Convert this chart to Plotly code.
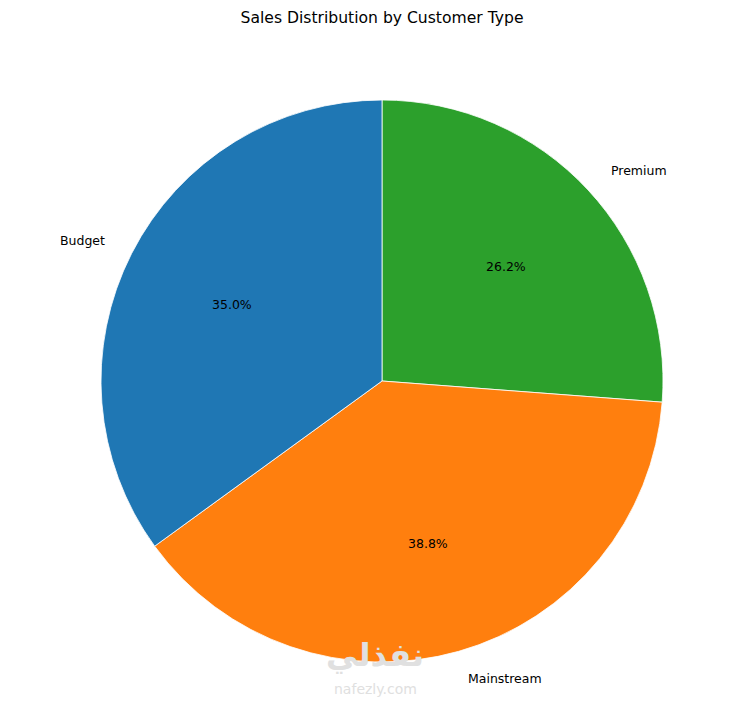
import math
import plotly.graph_objects as go

labels = ["Budget", "Mainstream", "Premium"]
values = [35.0, 38.8, 26.2]
colors = ["#1f77b4", "#ff7f0e", "#2ca02c"]
title = "Sales Distribution by Customer Type"

OFF = 8  # page body margin
W, H = 751 - OFF, 708 - OFF
cx, cy, R = 382 - OFF, 381 - OFF, 281  # pixel centre/radius of the pie (figure coords)

# matplotlib draws counter-clockwise from 12 o'clock; equivalently draw the
# reversed order clockwise from 12 o'clock
fig = go.Figure(go.Pie(
    labels=labels[::-1], values=values[::-1], sort=False, direction="clockwise",
    rotation=0, textinfo="none", hoverinfo="label+percent",
    marker=dict(colors=colors[::-1], line=dict(color="white", width=0.8)),
    domain=dict(x=[(cx - R) / W, (cx + R) / W],
                y=[(H - cy - R) / H, (H - cy + R) / H]),
    showlegend=False,
))

total = sum(values)
start = 90.0
font = dict(family="DejaVu Sans", size=12.5, color="black")
for lab, v in zip(labels, values):
    sweep = 360.0 * v / total
    mid = math.radians(start + sweep / 2)
    start += sweep
    lx = cx + 1.1 * R * math.cos(mid)
    ly = cy - 1.1 * R * math.sin(mid)
    fig.add_annotation(x=lx / W, y=1 - ly / H, xref="paper", yref="paper",
                       text=lab, showarrow=False, font=font,
                       xanchor="left" if math.cos(mid) > 0 else "right",
                       yanchor="middle")
    px = cx + 0.6 * R * math.cos(mid)
    py = cy - 0.6 * R * math.sin(mid)
    fig.add_annotation(x=px / W, y=1 - py / H, xref="paper", yref="paper",
                       text=f"{100 * v / total:.1f}%", showarrow=False, font=font,
                       xanchor="center", yanchor="middle")

# watermark
fig.add_annotation(x=(375 - OFF) / W, y=1 - (676 - OFF) / H, xref="paper", yref="paper",
                   text="<b>نفذلي</b>", showarrow=False,
                   font=dict(family="DejaVu Sans", size=32, color="#e0e0e0"))
fig.add_annotation(x=(375 - OFF) / W, y=1 - (699 - OFF) / H, xref="paper", yref="paper",
                   text="nafezly.com", showarrow=False,
                   font=dict(family="DejaVu Sans", size=14, color="#e0e0e0"))

fig.update_layout(
    width=W, height=H,
    margin=dict(l=0, r=0, t=0, b=0),
    paper_bgcolor="white", plot_bgcolor="white",
    title=dict(text=title, x=(382 - OFF) / W, xanchor="center",
               y=1 - (18 - OFF) / H, yanchor="middle",
               font=dict(family="DejaVu Sans", size=15.6, color="black")),
)

fig.write_html("out.html")
